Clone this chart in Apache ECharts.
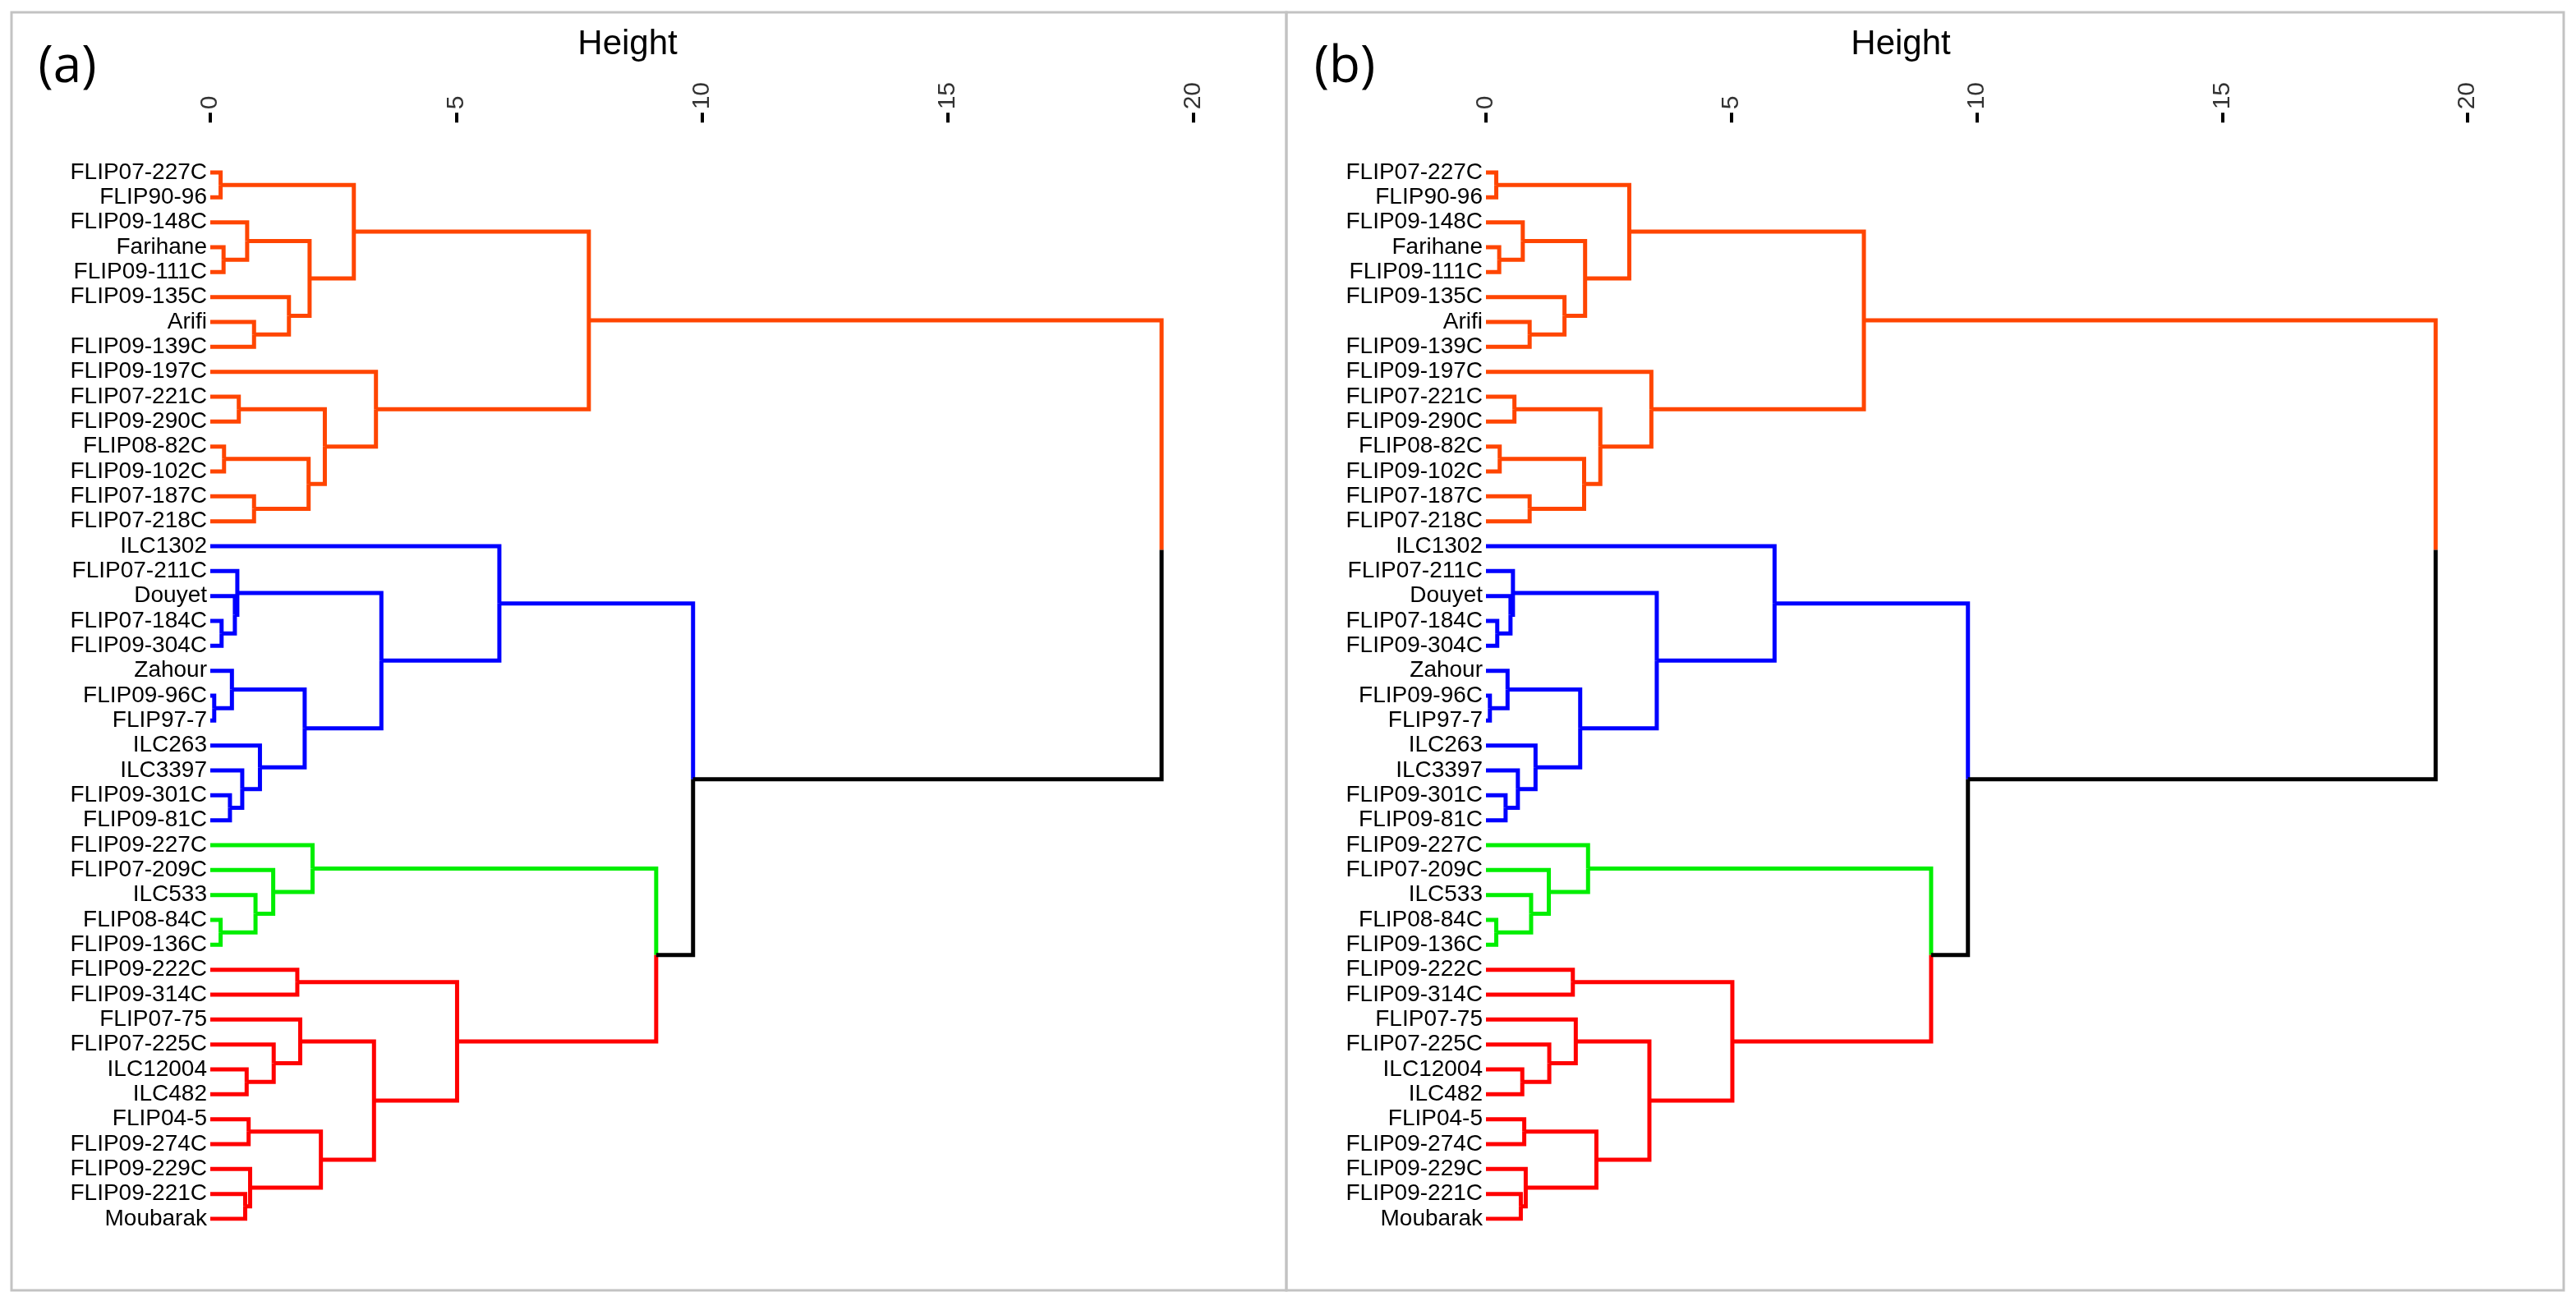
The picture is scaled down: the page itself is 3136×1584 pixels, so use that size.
<!DOCTYPE html>
<html>
<head>
<meta charset="utf-8">
<script src="https://cdn.jsdelivr.net/npm/echarts@6/dist/echarts.min.js"></script>
<style>
html,body{margin:0;padding:0;background:#fff;}
#chart{width:3136px;height:1584px;}
</style>
</head>
<body>
<div id="chart"></div>
<script>
// Leaf labels, in display order (top to bottom)
const leaves = [
  'FLIP07-227C','FLIP90-96','FLIP09-148C','Farihane','FLIP09-111C','FLIP09-135C','Arifi','FLIP09-139C',
  'FLIP09-197C','FLIP07-221C','FLIP09-290C','FLIP08-82C','FLIP09-102C','FLIP07-187C','FLIP07-218C',
  'ILC1302','FLIP07-211C','Douyet','FLIP07-184C','FLIP09-304C','Zahour','FLIP09-96C','FLIP97-7',
  'ILC263','ILC3397','FLIP09-301C','FLIP09-81C',
  'FLIP09-227C','FLIP07-209C','ILC533','FLIP08-84C','FLIP09-136C',
  'FLIP09-222C','FLIP09-314C','FLIP07-75','FLIP07-225C','ILC12004','ILC482','FLIP04-5','FLIP09-274C',
  'FLIP09-229C','FLIP09-221C','Moubarak'
];
// Cluster of each leaf (0 orange, 1 blue, 2 green, 3 red)
const leafCluster = [
  0,0,0,0,0,0,0,0,0,0,0,0,0,0,0,
  1,1,1,1,1,1,1,1,1,1,1,1,
  2,2,2,2,2,
  3,3,3,3,3,3,3,3,3,3,3
];
const clusterColors = ['#FF4500','#0000FF','#00EE00','#FF0000'];
const rootColor = '#000000';

// Merge table (hclust style): negative = leaf number (1-based), positive = merge number (1-based)
const mergeA = [-1,-4,-3,-7,-6, 3, 1,-10,-12,-14, 9, 8,-9, 7,
                -19,-18,-17,-22,-21,-26,-25,-24,19,17,-16,
                -31,-30,-29,-28,
                -33,-37,-36,-35,-39,-42,-41,34,33,30,
                29,25,14];
const mergeB = [-2,-5, 2,-8, 4, 5, 6,-11,-13,-15,10,11,12,13,
                -20,15,16,-23,18,-27,20,21,22,23,24,
                -32,26,27,28,
                -34,-38,31,32,-40,-43,35,36,37,38,
                39,40,41];
const mergeH = [0.21,0.27,0.75,0.89,1.60,2.02,2.92,0.58,0.28,0.89,2.00,2.33,3.37,7.70,
                0.23,0.50,0.55,0.08,0.44,0.40,0.65,1.01,1.92,3.48,5.88,
                0.21,0.92,1.28,2.08,
                1.77,0.74,1.29,1.83,0.78,0.71,0.81,2.25,3.33,5.02,
                9.07,9.82,19.35];

// Axis ticks of the Height axis
const heightTicks = [0, 5, 10, 15, 20];

function buildSegments() {
  const nodes = {};
  function info(id) {
    if (id < 0) {
      const i = -id - 1;
      return { y: i, h: 0, cl: leafCluster[i] };
    }
    return nodes[id];
  }
  const segs = [];
  for (let k = 0; k < mergeH.length; k++) {
    const a = info(mergeA[k]), b = info(mergeB[k]);
    const h = mergeH[k];
    const y = (a.y + b.y) / 2;
    const cl = (a.cl >= 0 && a.cl === b.cl) ? a.cl : -1;
    nodes[k + 1] = { y: y, h: h, cl: cl };
    [a, b].forEach(function (c) {
      segs.push({
        coords: [[h, y], [h, c.y], [c.h, c.y]],
        lineStyle: { color: c.cl >= 0 ? clusterColors[c.cl] : rootColor }
      });
    });
  }
  return segs;
}

const segments = buildSegments();
const chart = echarts.init(document.getElementById('chart'), null, { renderer: 'canvas' });

// two empty rows above the first leaf hold the Height axis
const padRows = 2;
const rowPx = 1274 / (leaves.length - 1);
const gridsPx = [
  { left: 256, top: 210 - padRows * rowPx, width: 1197, height: rowPx * (leaves.length - 1 + padRows) },
  { left: 1809, top: 210 - padRows * rowPx, width: 1195, height: rowPx * (leaves.length - 1 + padRows) }
];

function xAxisFor(i) {
  return {
    type: 'value', gridIndex: i, position: 'top', min: heightTicks[0], max: heightTicks[heightTicks.length - 1],
    interval: heightTicks[1] - heightTicks[0],
    axisLine: { show: false, onZero: false },
    axisTick: { show: true, length: 12, lineStyle: { color: '#000', width: 4 } },
    axisLabel: { rotate: -90, margin: 16, fontSize: 30, color: '#333', fontFamily: 'Liberation Sans' },
    splitLine: { show: false }
  };
}
function yAxisFor(i) {
  return {
    type: 'value', gridIndex: i, inverse: true, min: -padRows, max: leaves.length - 1, interval: 1,
    axisLine: { show: false, onZero: false }, axisTick: { show: false }, splitLine: { show: false },
    axisLabel: {
      margin: 4, fontSize: 28, color: '#000', fontFamily: 'Liberation Sans',
      formatter: function (v) { const i = Math.round(v); return i >= 0 ? (leaves[i] || '') : ''; }
    }
  };
}
function seriesFor(i) {
  return {
    type: 'lines', coordinateSystem: 'cartesian2d', xAxisIndex: i, yAxisIndex: i,
    polyline: true, silent: true, animation: false,
    lineStyle: { width: 5, opacity: 1, join: 'miter', cap: 'butt' },
    data: segments
  };
}

const option = {
  backgroundColor: '#ffffff',
  animation: false,
  grid: gridsPx.map(function (g) { return Object.assign({ containLabel: false }, g); }),
  xAxis: [xAxisFor(0), xAxisFor(1)],
  yAxis: [yAxisFor(0), yAxisFor(1)],
  series: [seriesFor(0), seriesFor(1)],
  graphic: [
    { type: 'rect', shape: { x: 14, y: 15, width: 1552, height: 1556 }, style: { fill: 'none', stroke: '#C3C3C3', lineWidth: 3 }, silent: true },
    { type: 'rect', shape: { x: 1566, y: 15, width: 1555, height: 1556 }, style: { fill: 'none', stroke: '#C3C3C3', lineWidth: 3 }, silent: true },
    { type: 'text', style: { text: 'Height', x: 764, y: 54, textAlign: 'center', textVerticalAlign: 'middle', fontSize: 42, fontFamily: 'Liberation Sans', fill: '#000' } },
    { type: 'text', style: { text: 'Height', x: 2314, y: 54, textAlign: 'center', textVerticalAlign: 'middle', fontSize: 42, fontFamily: 'Liberation Sans', fill: '#000' } },
    { type: 'text', style: { text: '(a)', x: 82, y: 82, textAlign: 'center', textVerticalAlign: 'middle', fontSize: 62, fontFamily: 'Open Sans', fill: '#000' } },
    { type: 'text', style: { text: '(b)', x: 1637, y: 82, textAlign: 'center', textVerticalAlign: 'middle', fontSize: 62, fontFamily: 'Open Sans', fill: '#000' } }
  ]
};
chart.setOption(option);
</script>
</body>
</html>
